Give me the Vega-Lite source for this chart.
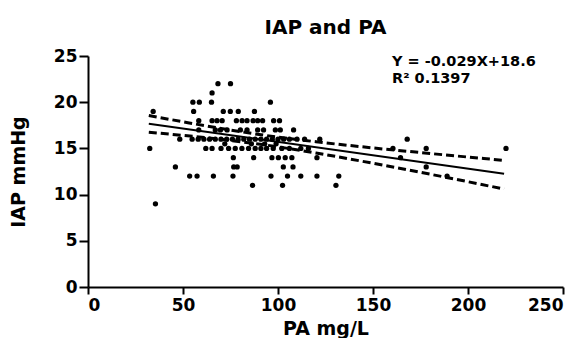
{
  "$schema": "https://vega.github.io/schema/vega-lite/v6.json",
  "width": 475,
  "height": 231,
  "autosize": {"type": "none"},
  "padding": {"left": 88, "top": 56, "right": 20, "bottom": 51},
  "background": "white",
  "config": {
    "view": {"stroke": null},
    "font": "DejaVu Sans",
    "axis": {
      "grid": false,
      "domainColor": "black",
      "domainWidth": 2,
      "tickColor": "black",
      "tickWidth": 2,
      "labelFont": "DejaVu Sans",
      "labelFontWeight": "bold",
      "labelFontSize": 17,
      "labelColor": "black",
      "titleFont": "DejaVu Sans",
      "titleFontWeight": "bold",
      "titleFontSize": 19,
      "titleColor": "black"
    },
    "axisX": {"tickSize": 7, "labelPadding": 3, "titlePadding": 6},
    "axisY": {"tickSize": 9, "labelPadding": 2, "titlePadding": 25}
  },
  "title": {"text": "IAP and PA", "font": "DejaVu Sans", "fontSize": 20, "fontWeight": "bold", "anchor": "middle", "offset": 9, "color": "black"},
  "datasets": {
    "points": [
      {"PA": 68.4, "IAP": 22}, {"PA": 75, "IAP": 22},
      {"PA": 65.3, "IAP": 21},
      {"PA": 55.2, "IAP": 20}, {"PA": 58.6, "IAP": 20}, {"PA": 65, "IAP": 20}, {"PA": 96, "IAP": 20},
      {"PA": 34.3, "IAP": 19}, {"PA": 55.6, "IAP": 19}, {"PA": 71.2, "IAP": 19}, {"PA": 74.9, "IAP": 19}, {"PA": 79.1, "IAP": 19}, {"PA": 87.6, "IAP": 19},
      {"PA": 58.3, "IAP": 18}, {"PA": 65.3, "IAP": 18}, {"PA": 67.9, "IAP": 18}, {"PA": 70.6, "IAP": 18}, {"PA": 78.1, "IAP": 18}, {"PA": 81.1, "IAP": 18}, {"PA": 83.7, "IAP": 18}, {"PA": 86.9, "IAP": 18}, {"PA": 89.3, "IAP": 18}, {"PA": 91.9, "IAP": 18}, {"PA": 97.7, "IAP": 18}, {"PA": 100.8, "IAP": 18},
      {"PA": 58.3, "IAP": 17}, {"PA": 67, "IAP": 17}, {"PA": 69.7, "IAP": 17}, {"PA": 73.2, "IAP": 17}, {"PA": 80.2, "IAP": 17}, {"PA": 83.7, "IAP": 17}, {"PA": 89.3, "IAP": 17}, {"PA": 92.4, "IAP": 17}, {"PA": 98.6, "IAP": 17}, {"PA": 101.2, "IAP": 17}, {"PA": 108.2, "IAP": 17},
      {"PA": 48.3, "IAP": 16}, {"PA": 54.8, "IAP": 16}, {"PA": 58, "IAP": 16}, {"PA": 61, "IAP": 16}, {"PA": 64, "IAP": 16}, {"PA": 67, "IAP": 16}, {"PA": 70, "IAP": 16}, {"PA": 73, "IAP": 16}, {"PA": 76, "IAP": 16}, {"PA": 79, "IAP": 16}, {"PA": 82, "IAP": 16}, {"PA": 85, "IAP": 16}, {"PA": 88, "IAP": 16}, {"PA": 91, "IAP": 16}, {"PA": 94, "IAP": 16}, {"PA": 97, "IAP": 16}, {"PA": 100, "IAP": 16}, {"PA": 103, "IAP": 16}, {"PA": 106, "IAP": 16}, {"PA": 110, "IAP": 16}, {"PA": 114, "IAP": 16}, {"PA": 122, "IAP": 16}, {"PA": 168, "IAP": 16},
      {"PA": 72, "IAP": 15.5}, {"PA": 86, "IAP": 15.5}, {"PA": 93, "IAP": 15.5}, {"PA": 99, "IAP": 15.5},
      {"PA": 32.5, "IAP": 15}, {"PA": 62, "IAP": 15}, {"PA": 65.3, "IAP": 15}, {"PA": 70, "IAP": 15}, {"PA": 74, "IAP": 15}, {"PA": 77.5, "IAP": 15}, {"PA": 81, "IAP": 15}, {"PA": 84.5, "IAP": 15}, {"PA": 88, "IAP": 15}, {"PA": 91, "IAP": 15}, {"PA": 94, "IAP": 15}, {"PA": 97.5, "IAP": 15}, {"PA": 102, "IAP": 15}, {"PA": 106, "IAP": 15}, {"PA": 112, "IAP": 15}, {"PA": 116, "IAP": 15}, {"PA": 160.5, "IAP": 15}, {"PA": 178, "IAP": 15}, {"PA": 220, "IAP": 15},
      {"PA": 76.5, "IAP": 14}, {"PA": 87.2, "IAP": 14}, {"PA": 96.8, "IAP": 14}, {"PA": 100.2, "IAP": 14}, {"PA": 103.8, "IAP": 14}, {"PA": 107.3, "IAP": 14}, {"PA": 120.5, "IAP": 14}, {"PA": 164.5, "IAP": 14},
      {"PA": 46, "IAP": 13}, {"PA": 76.7, "IAP": 13}, {"PA": 78.5, "IAP": 13}, {"PA": 102.8, "IAP": 13}, {"PA": 107.9, "IAP": 13}, {"PA": 178, "IAP": 13},
      {"PA": 53.5, "IAP": 12}, {"PA": 57.4, "IAP": 12}, {"PA": 66, "IAP": 12}, {"PA": 76.3, "IAP": 12}, {"PA": 96.3, "IAP": 12}, {"PA": 105, "IAP": 12}, {"PA": 112, "IAP": 12}, {"PA": 120.5, "IAP": 12}, {"PA": 132, "IAP": 12}, {"PA": 189, "IAP": 12},
      {"PA": 86.6, "IAP": 11}, {"PA": 102.4, "IAP": 11}, {"PA": 130.5, "IAP": 11},
      {"PA": 35.5, "IAP": 9}
    ],
    "fit": [
      {"PA": 32, "IAP": 17.67},
      {"PA": 219, "IAP": 12.25}
    ],
    "band": [
      {"PA": 32, "IAP": 18.55, "bound": "upper"},
      {"PA": 50, "IAP": 17.88, "bound": "upper"},
      {"PA": 70, "IAP": 17.16, "bound": "upper"},
      {"PA": 93, "IAP": 16.42, "bound": "upper"},
      {"PA": 120, "IAP": 15.72, "bound": "upper"},
      {"PA": 150, "IAP": 15.05, "bound": "upper"},
      {"PA": 180, "IAP": 14.45, "bound": "upper"},
      {"PA": 219, "IAP": 13.7, "bound": "upper"},
      {"PA": 32, "IAP": 16.75, "bound": "lower"},
      {"PA": 50, "IAP": 16.41, "bound": "lower"},
      {"PA": 70, "IAP": 15.98, "bound": "lower"},
      {"PA": 93, "IAP": 15.38, "bound": "lower"},
      {"PA": 120, "IAP": 14.5, "bound": "lower"},
      {"PA": 150, "IAP": 13.39, "bound": "lower"},
      {"PA": 180, "IAP": 12.21, "bound": "lower"},
      {"PA": 219, "IAP": 10.6, "bound": "lower"}
    ],
    "notes": [
      {"label": "Y = -0.029X+18.6\nR² 0.1397"}
    ]
  },
  "layer": [
    {
      "data": {"name": "band"},
      "mark": {"type": "line", "color": "black", "strokeWidth": 3, "strokeDash": [8, 4], "interpolate": "monotone"},
      "encoding": {
        "x": {
          "field": "PA", "type": "quantitative",
          "scale": {"domain": [0, 250], "nice": false, "zero": false},
          "axis": {"values": [0, 50, 100, 150, 200, 250], "title": "PA mg/L"}
        },
        "y": {
          "field": "IAP", "type": "quantitative",
          "scale": {"domain": [0, 25], "nice": false, "zero": false},
          "axis": {"values": [0, 5, 10, 15, 20, 25], "title": "IAP mmHg"}
        },
        "detail": {"field": "bound", "type": "nominal"}
      }
    },
    {
      "data": {"name": "fit"},
      "mark": {"type": "line", "color": "black", "strokeWidth": 2},
      "encoding": {
        "x": {"field": "PA", "type": "quantitative"},
        "y": {"field": "IAP", "type": "quantitative"}
      }
    },
    {
      "data": {"name": "points"},
      "mark": {"type": "circle", "color": "black", "opacity": 1, "size": 28},
      "encoding": {
        "x": {"field": "PA", "type": "quantitative"},
        "y": {"field": "IAP", "type": "quantitative"}
      }
    },
    {
      "data": {"name": "notes"},
      "mark": {"type": "text", "align": "left", "baseline": "top", "lineBreak": "\n", "lineHeight": 17, "font": "DejaVu Sans", "fontWeight": "bold", "fontSize": 14.5, "color": "black"},
      "encoding": {
        "x": {"datum": 160, "type": "quantitative"},
        "y": {"datum": 25.15, "type": "quantitative"},
        "text": {"field": "label", "type": "nominal"}
      }
    }
  ]
}
